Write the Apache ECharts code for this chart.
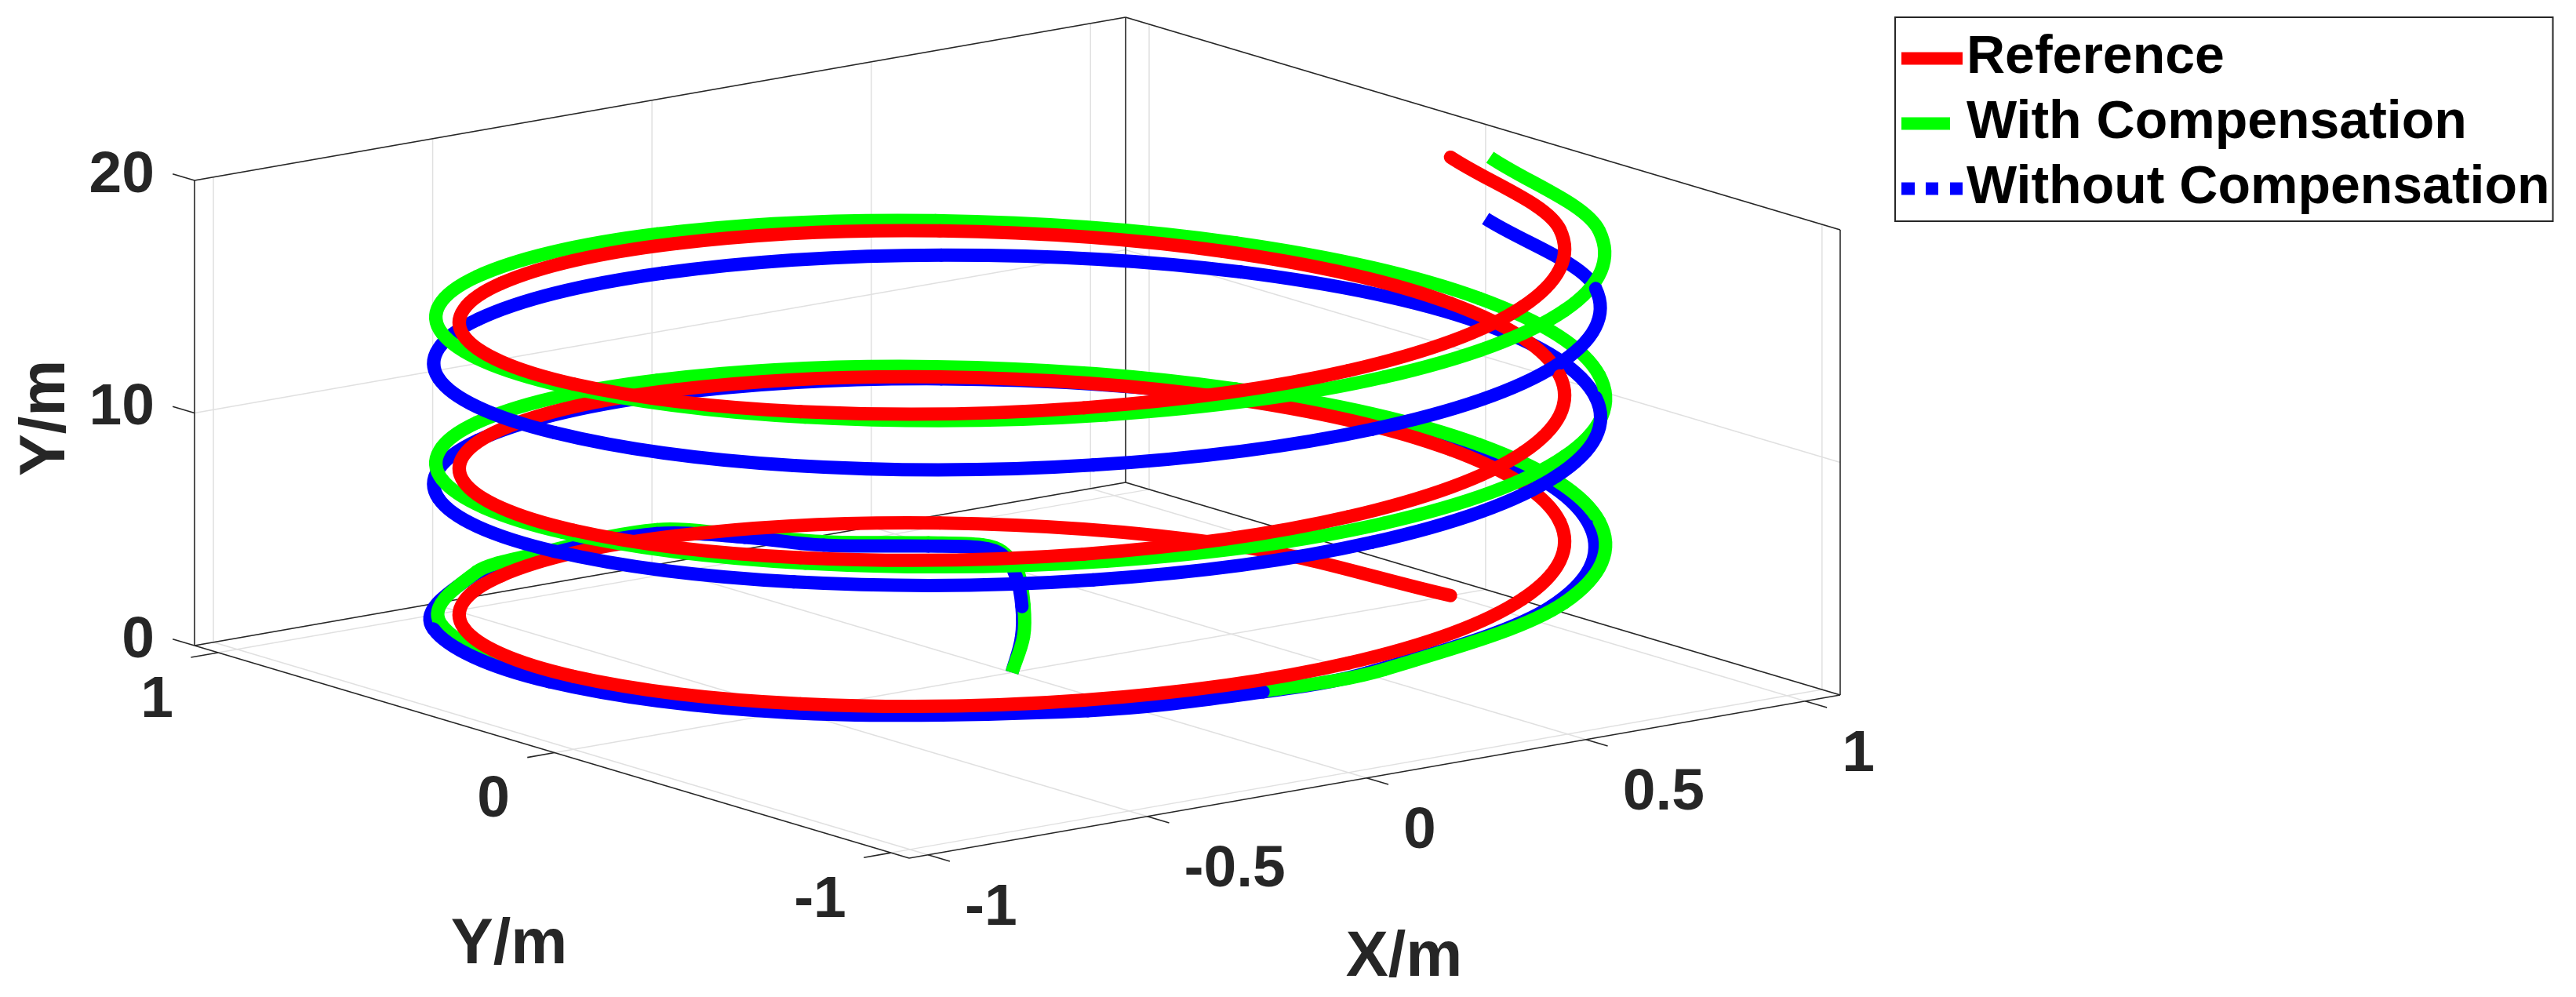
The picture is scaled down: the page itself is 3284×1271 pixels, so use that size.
<!DOCTYPE html>
<html>
<head>
<meta charset="utf-8">
<style>html,body{margin:0;padding:0;background:#fff}#c{width:3284px;height:1271px}</style>
<script src="https://cdn.jsdelivr.net/npm/echarts@6/dist/echarts.min.js"></script>
</head>
<body>
<div id="c"></div>
<script>
// Axis limits and ticks
const xLim = [-1.043, 1.08];
const yLim = [-1.054, 1.07];
const zLim = [0, 20];
const xTicks = [-1, -0.5, 0, 0.5, 1];
const yTicks = [-1, 0, 1];
const zTicks = [0, 10, 20];
const legendNames = ['Reference', 'With Compensation', 'Without Compensation'];

// Reference trajectory
const refX = [1,.866,.5,0,-.5,-.866,-1,-.866,-.5,0,.5,.866,1,.866,.5,0,-.5,-.866,-1,-.866,-.5,0,.5,.866,1,.866,.5,0,-.5,-.866,-1,-.866,-.5,0,.5,.866,1];
const refY = [0,.5,.866,1,.866,.5,0,-.5,-.866,-1,-.866,-.5,0,.5,.866,1,.866,.5,0,-.5,-.866,-1,-.866,-.5,0,.5,.866,1,.866,.5,0,-.5,-.866,-1,-.866,-.5,0];
const refZ = [0,.52,1.05,1.57,2.09,2.62,3.14,3.67,4.19,4.71,5.24,5.76,6.28,6.81,7.33,7.85,8.38,8.9,9.42,9.95,10.47,11,11.52,12.04,12.57,13.09,13.61,14.14,14.66,15.18,15.71,16.23,16.76,17.28,17.8,18.33,18.85];

// With compensation
const comX = [0,.029,.058,.172,.3,.315,.27,.16,.105,.02,-.285,-.503,-.885,-1.025,-.885,-.503,-.197,.02,.543,.925,1.065,.925,.543,.02,-.503,-.885,-1.025,-.885,-.503,.02,.543,.925,1.065,.925,.543,.02,-.503,-.885,-1.025,-.885,-.503,.02,.543,.925,1.09];
const comY = [0,.003,.04,.205,.42,.5,.6,.765,.93,1.08,1.033,.935,.54,0,-.54,-.935,-1.056,-1.08,-.935,-.54,0,.54,.935,1.08,.935,.54,0,-.54,-.935,-1.08,-.935,-.54,0,.54,.935,1.08,.935,.54,0,-.54,-.935,-1.08,-.935,-.54,0];
const comZ = [0,1.45,2.55,2.8,2.4,2.3,2.1,1.8,1.55,1.43,1.62,1.97,2.62,3.14,3.67,4.19,4.5,4.71,5.24,5.76,6.28,6.81,7.33,7.85,8.38,8.9,9.42,9.95,10.47,11,11.52,12.04,12.57,13.09,13.61,14.14,14.66,15.18,15.71,16.23,16.76,17.28,17.8,18.25,18.55];

// Without compensation
const rawX = [0,.024,.052,.165,.296,.31,.265,.153,.101,0,-.31,-.528,-.914,-1.055,-.914,-.528,-.219,0,.528,.914,1.067,.926,.54,.012,-.516,-.902,-1.043,-.902,-.516,.012,.54,.926,1.067,.926,.54,.012,-.516,-.902,-1.043,-.902,-.516,.012,.54,.926,1.08];
const rawY = [0,.003,.038,.203,.416,.498,.595,.759,.925,1.055,1.01,.914,.528,0,-.528,-.914,-1.032,-1.055,-.914,-.528,0,.528,.914,1.055,.914,.528,0,-.528,-.914,-1.055,-.914,-.528,0,.528,.914,1.055,.914,.528,0,-.528,-.914,-1.055,-.914,-.528,0];
const rawZ = [0,1.4,2.5,2.7,2.3,2.2,2,1.7,1.5,1.43,1.65,1.98,2.62,3.09,3.57,4.04,4.33,4.52,5.02,5.51,5.98,6.45,6.91,7.35,7.76,8.18,8.66,9.15,9.62,10.1,10.59,11.04,11.52,11.89,12.23,12.59,12.96,13.35,13.76,14.15,14.56,14.96,15.35,15.72,15.95];

// Oblique box projection of the plot (three-dimensional axes onto the page)
function project(x, y, z) {
  const dx = x - xLim[0], dy = yLim[1] - y;
  return [248 + 559.1 * dx + 428.9 * dy, 823 - 98 * dx + 127.6 * dy - 29.65 * z];
}

const RED = '#ff0000', GREEN = '#00ff00', BLUE = '#0000ff';
const INK = '#262626', GRID = '#e0e0e0';
const FONT = '"Liberation Sans", Arial, sans-serif';
const CURVE_WIDTH = 17;
const series = [];

function seg(a, b, color, width) {
  series.push({
    type: 'line', silent: true, showSymbol: false, symbol: 'none', animation: false,
    data: [project(a[0], a[1], a[2]), project(b[0], b[1], b[2])],
    lineStyle: { color: color, width: width, cap: 'butt' }, z: color === GRID ? 1 : 2
  });
}

// Grid lines
const [x0, x1] = xLim, [y0, y1] = yLim, [z0, z1] = zLim;
xTicks.forEach(v => { seg([v, y0, z0], [v, y1, z0], GRID, 1.5); seg([v, y1, z0], [v, y1, z1], GRID, 1.5); });
yTicks.forEach(v => { seg([x0, v, z0], [x1, v, z0], GRID, 1.5); seg([x1, v, z0], [x1, v, z1], GRID, 1.5); });
zTicks.forEach(v => { seg([x0, y1, v], [x1, y1, v], GRID, 1.5); seg([x1, y1, v], [x1, y0, v], GRID, 1.5); });

// Box edges
[
  [[x0,y1,z0],[x0,y0,z0]], [[x0,y0,z0],[x1,y0,z0]],
  [[x0,y1,z0],[x1,y1,z0]], [[x1,y1,z0],[x1,y0,z0]],
  [[x0,y1,z1],[x1,y1,z1]], [[x1,y1,z1],[x1,y0,z1]],
  [[x0,y1,z0],[x0,y1,z1]], [[x1,y1,z0],[x1,y1,z1]], [[x1,y0,z0],[x1,y0,z1]]
].forEach(e => seg(e[0], e[1], INK, 1.6));

// Tick marks
xTicks.forEach(v => seg([v, y0, z0], [v, y0 - 0.065, z0], INK, 1.6));
yTicks.forEach(v => seg([x0, v, z0], [x0 - 0.062, v, z0], INK, 1.6));
zTicks.forEach(v => seg([x0, y1, v], [x0, y1 + 0.065, v], INK, 1.6));

// Curve pieces drawn as a spline through the read samples, each span from
// sample i to i+1 using the axes' own coordinate mapping.
function piece(s, from, to, order) {
  const pts = s.xs.map((_, i) => project(s.xs[i], s.ys[i], s.zs[i]));
  const n = pts.length;
  const clampIdx = k => Math.max(0, Math.min(n - 1, k));
  // knot spacing measured in data space so the spline stays true to the round path
  const gap = (a, b) => {
    a = clampIdx(a); b = clampIdx(b);
    return Math.hypot(s.xs[a] - s.xs[b], s.ys[a] - s.ys[b], (s.zs[a] - s.zs[b]) * 0.2);
  };
  const rows = [];
  for (let i = from; i <= to; i++) rows.push([pts[i][0], pts[i][1], i]);
  series.push({
    type: 'custom', name: s.name, silent: true, animation: false, clip: false,
    coordinateSystem: 'cartesian2d', z: 10 + order,
    itemStyle: { color: s.color },
    encode: { x: 0, y: 1 },
    data: rows,
    renderItem: function (params, api) {
      const i = api.value(2);
      if (i >= to) return null;
      const c = k => api.coord(pts[clampIdx(k)]);
      const pm = c(i - 1), p0 = c(i), p1 = c(i + 1), p2 = c(i + 2);
      const g = gap(i, i + 1);
      const s0 = (gap(i - 1, i) + g) || 1, s1 = (g + gap(i + 1, i + 2)) || 1;
      const k = 0.351;
      const cap = (s.butt && (i === 0 || i + 1 === n - 1)) ? 'butt' : 'round';
      return {
        type: 'bezierCurve',
        shape: {
          x1: p0[0], y1: p0[1],
          cpx1: p0[0] + (p1[0] - pm[0]) / s0 * g * k,
          cpy1: p0[1] + (p1[1] - pm[1]) / s0 * g * k,
          cpx2: p1[0] - (p2[0] - p0[0]) / s1 * g * k,
          cpy2: p1[1] - (p2[1] - p0[1]) / s1 * g * k,
          x2: p1[0], y2: p1[1]
        },
        style: { fill: 'none', stroke: s.color, lineWidth: CURVE_WIDTH, lineCap: cap, lineJoin: 'round' }
      };
    }
  });
}
const R = { xs: refX, ys: refY, zs: refZ, name: legendNames[0], color: RED, butt: false };
const G = { xs: comX, ys: comY, zs: comZ, name: legendNames[1], color: GREEN, butt: true };
const B = { xs: rawX, ys: rawY, zs: rawZ, name: legendNames[2], color: BLUE, butt: true };

// Back arcs, far side of the view
piece(B, 0, 2, 0);
piece(G, 0, 2, 1);
piece(G, 2, 10, 0);
piece(B, 2, 10, 1);
piece(B, 10, 12, 2);
piece(G, 10, 12, 3);
piece(B, 19, 25, 4);
piece(B, 31, 37, 4);
piece(B, 43, 44, 4);
piece(G, 19, 25, 5);
piece(G, 31, 37, 5);
piece(G, 43, 44, 5);
piece(R, 0, 5, 6);
piece(R, 11, 17, 6);
piece(R, 23, 29, 6);
piece(R, 35, 36, 6);
// Front arcs, near side of the view
piece(B, 16, 19, 7);
piece(G, 12, 16, 8);
piece(G, 16, 19, 9);
piece(G, 25, 31, 9);
piece(G, 37, 43, 9);
piece(B, 12, 16, 10);
piece(B, 25, 31, 10);
piece(B, 37, 43, 10);
piece(R, 5, 11, 11);
piece(R, 17, 23, 11);
piece(R, 29, 35, 11);

// Text
function textSeries(items) {
  series.push({
    type: 'scatter', silent: true, animation: false, symbolSize: 1, z: 20, clip: false,
    itemStyle: { color: 'rgba(0,0,0,0)', opacity: 1 },
    data: items.map(t => ({
      value: t.at,
      label: {
        show: true, position: 'inside', formatter: t.text, color: INK, fontFamily: FONT,
        fontWeight: 'bold', fontSize: t.size, align: t.align, verticalAlign: 'middle',
        offset: t.off || [0, 0], rotate: t.rot || 0
      }
    }))
  });
}
const yTitleAt = [649, 1206], xTitleAt = [1790, 1222], zTitleAt = [60, 533];
textSeries([
  ...zTicks.map(v => ({ at: project(x0, y1, v), text: String(v), size: 75, align: 'right', off: [-51, -6] })),
  ...yTicks.map(v => ({ at: project(x0, v, z0), text: String(v), size: 75, align: 'right', off: [-57, 61] })),
  ...xTicks.map(v => ({ at: project(v, y0, z0), text: String(v), size: 75, align: 'left', off: [47, 69] })),
  { at: yTitleAt, text: 'Y/m', size: 81, align: 'center' },
  { at: xTitleAt, text: 'X/m', size: 81, align: 'center' },
  { at: zTitleAt, text: 'Y/m', size: 81, align: 'center', rot: 90 }
]);

const chart = echarts.init(document.getElementById('c'), null, { renderer: 'canvas', width: 3284, height: 1271 });
chart.setOption({
  animation: false,
  backgroundColor: '#ffffff',
  grid: { left: 0, right: 0, top: 0, bottom: 0 },
  xAxis: { type: 'value', min: 0, max: 3284, show: false },
  yAxis: { type: 'value', min: 0, max: 1271, inverse: true, show: false },
  legend: {
    show: true, orient: 'vertical', left: 2416, top: 22, selectedMode: false,
    padding: [11, 4, 0, 8], itemGap: 0, itemWidth: 78, itemHeight: 16,
    borderColor: INK, borderWidth: 2, backgroundColor: '#ffffff',
    textStyle: { fontFamily: FONT, fontWeight: 'bold', fontSize: 68, color: '#000000', lineHeight: 83 },
    itemStyle: { borderWidth: 0 }, lineStyle: { width: 0 },
    data: [
      { name: legendNames[0], icon: 'rect', itemStyle: { color: RED } },
      { name: legendNames[1], icon: 'path://M0 0H62V16H0Z M78 16L78 15.99Z', itemStyle: { color: GREEN } },
      { name: legendNames[2], icon: 'path://M0 0H17V16H0Z M31 0H47V16H31Z M62 0H78V16H62Z', itemStyle: { color: BLUE } }
    ]
  },
  series: series
});
</script>
</body>
</html>
